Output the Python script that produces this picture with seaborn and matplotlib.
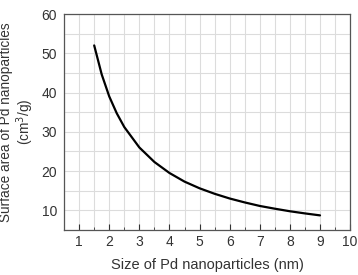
import pandas as pd
import matplotlib
matplotlib.use("Agg")
import matplotlib.pyplot as plt
import seaborn as sns
from matplotlib.ticker import MultipleLocator

# values
size_nm = [1.5, 1.75, 2.0, 2.25, 2.5, 3.0, 3.5, 4.0, 4.5, 5.0, 5.5, 6.0, 6.5, 7.0, 7.5, 8.0, 8.5, 9.0]
surface_area = [52.0, 44.6, 39.0, 34.7, 31.2, 26.0, 22.3, 19.5, 17.3, 15.6, 14.2, 13.0, 12.0, 11.1, 10.4, 9.75, 9.2, 8.7]

data = pd.DataFrame({"size": size_nm, "area": surface_area})

sns.set_style("white")
plt.rcParams['font.family'] = ['Liberation Sans', 'DejaVu Sans']

fig, ax = plt.subplots(figsize=(3.58, 2.75), dpi=100)
fig.subplots_adjust(left=0.179, right=0.978, top=0.949, bottom=0.164)

sns.lineplot(data=data, x="size", y="area", color="black", linewidth=1.6, ax=ax)

ax.set_xlim(0.5, 10)
ax.set_ylim(5, 60)
ax.xaxis.set_major_locator(MultipleLocator(1))
ax.xaxis.set_minor_locator(MultipleLocator(0.5))
ax.yaxis.set_major_locator(MultipleLocator(10))
ax.yaxis.set_minor_locator(MultipleLocator(5))
ax.grid(True, which="both", color="#dcdcdc", linewidth=0.8)
ax.set_axisbelow(True)

for s in ax.spines.values():
    s.set_color("#555555")
    s.set_linewidth(0.9)

ax.tick_params(axis="both", which="both", direction="in", labelsize=10, colors="#333333")
ax.tick_params(axis="x", which="major", length=4, bottom=True, pad=4)
ax.tick_params(axis="x", which="minor", length=2, bottom=True)
ax.tick_params(axis="y", which="both", length=0, left=False, pad=5)
ax.set_xticks(range(1, 11))

ax.set_xlabel("Size of Pd nanoparticles (nm)", fontsize=10.5, color="#333333", labelpad=6)
ax.set_ylabel("Surface area of Pd nanoparticles\n(cm$^3$/g)", fontsize=9.8, color="#333333",
              linespacing=1.1, labelpad=4)

plt.savefig("out.png", dpi=100)
